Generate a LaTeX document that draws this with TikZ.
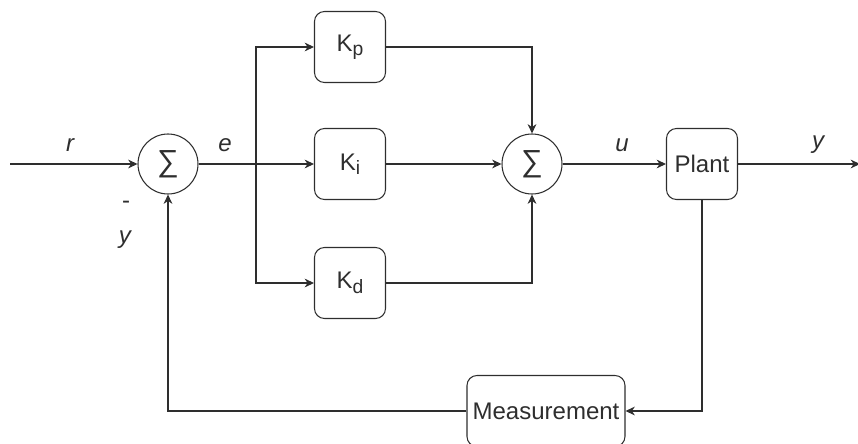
\documentclass[tikz,border=0pt]{standalone}
\usepackage{fontspec}
\setmainfont{Liberation Sans}
\usetikzlibrary{arrows.meta,positioning}
\newcommand\gfont{\fontsize{20.5}{24}\selectfont}
\newcommand\sfont{\fontsize{26}{30}\selectfont}
\newcommand\ksub[1]{K\raisebox{-0.35ex}{\fontsize{16.5}{18}\selectfont #1}}

\begin{document}
\begin{tikzpicture}[x=0.03cm,y=-0.03cm,line width=0.9pt,color=black!82,
  >={Stealth[length=8pt,width=7.5pt]},
  block/.style={draw,rounded corners=0.3cm,minimum width=2.13cm,minimum height=2.13cm,font=\gfont},
  sum/.style={draw,circle,minimum size=1.8cm,inner sep=0pt,font=\sfont},
  lbl/.style={font=\gfont\itshape}]
  \useasboundingbox (0,0) rectangle (858,444);

  % blocks
  \node[sum] (s1) at (168,164) {∑};
  \node[block] (kp) at (350,47) {\ksub{p}};
  \node[block] (ki) at (350,164) {\ksub{i}};
  \node[block] (kd) at (350,283) {\ksub{d}};
  \node[sum] (s2) at (532,164) {∑};
  \node[block] (plant) at (702,164) {Plant};
  \node[block,minimum width=4.74cm] (meas) at (546,411) {Measurement};
  \coordinate (in) at (10,164);
  \coordinate (out) at (860,164);
  \coordinate (split) at (256,164);

  % signals
  \node[lbl] (r) at (70,145) {r};
  \node[lbl] (e) at (225,145) {e};
  \node[lbl] (u) at (622,145) {u};
  \node[lbl] (y) at (818,145) {y};
  \node[font=\gfont] (minus) at (126,205) {-};
  \node[lbl] (yfb) at (125,240) {y};

  % connectors
  \draw[->] (in) -- (s1);
  \draw (s1) -- (split);
  \draw[->] (split) |- (kp);
  \draw[->] (split) -- (ki);
  \draw[->] (split) |- (kd);
  \draw[->] (kp) -| (s2);
  \draw[->] (ki) -- (s2);
  \draw[->] (kd) -| (s2);
  \draw[->] (s2) -- (plant);
  \draw[->] (plant) -- (out);
  \draw[->] (plant) |- (meas);
  \draw[->] (meas) -| (s1);
\end{tikzpicture}
\end{document}
